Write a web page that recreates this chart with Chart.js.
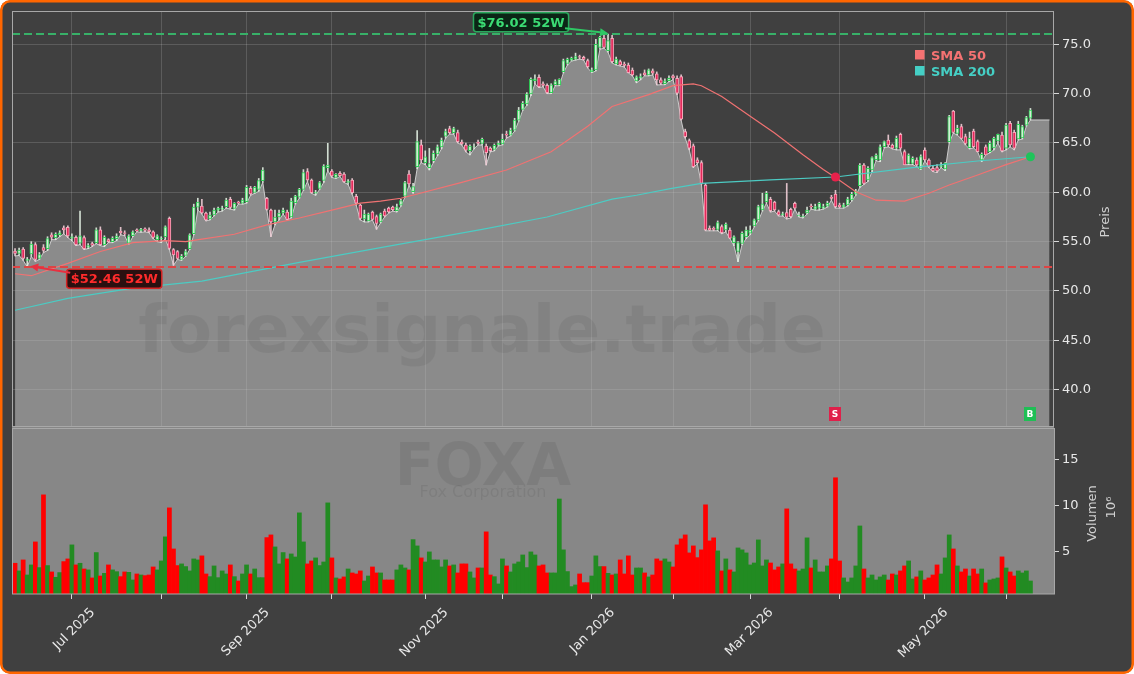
<!DOCTYPE html>
<html>
<head>
<meta charset="utf-8">
<script src="https://cdn.jsdelivr.net/npm/chart.js@4.4.1/dist/chart.umd.min.js"></script>
<style>
  html, body { margin: 0; padding: 0; background: #ffffff; }
</style>
</head>
<body>
<canvas id="chart" width="1134" height="674"></canvas>
<script>
// FOXA daily candles, Jun 10 2025 .. Jun 9 2026 (x = trading day index)
const open = [
  54.05, 53.8, 54.25, 53.1, 53.75, 54.7, 53.3, 54.4, 54.3, 55.7,
  55.4, 55.7, 56.4, 56.45, 55.35, 55.45, 54.85, 55.4, 54.45, 54.8,
  54.9, 56.2, 54.7, 55.2, 55.0, 55.3, 56.05, 55.9, 54.85, 55.6,
  56.2, 56.1, 56.3, 56.2, 56.0, 55.2, 55.3, 55.5, 57.36, 54.2,
  53.99, 53.2, 53.6, 54.3, 55.8, 58.5, 58.6, 57.9, 57.3, 57.7,
  58.2, 58.3, 58.54, 59.29, 58.37, 59.0, 58.9, 59.05, 60.4, 60.0,
  60.3, 61.18, 59.4, 58.2, 57.0, 57.5, 57.9, 58.0, 57.5, 58.95,
  59.5, 60.3, 62.09, 61.25, 59.9, 60.4, 61.2, 62.5, 62.16, 61.5,
  61.92, 61.85, 61.0, 61.25, 59.6, 58.71, 57.3, 57.1, 58.0, 57.53,
  57.0, 58.1, 58.4, 58.5, 58.14, 58.7, 59.62, 61.85, 60.06, 62.6,
  64.8, 63.0, 62.5, 63.2, 63.9, 64.6, 65.7, 66.45, 66.04, 66.04,
  65.1, 64.79, 64.22, 64.6, 65.09, 64.96, 64.69, 64.49, 64.35, 64.8,
  64.9, 65.9, 65.8, 66.3, 67.3, 68.41, 68.95, 69.96, 71.3, 71.65,
  71.0, 70.84, 70.1, 70.9, 70.87, 72.22, 73.07, 73.4, 73.5, 73.74,
  73.68, 73.34, 72.2, 72.4, 74.69, 75.6, 74.35, 75.6, 73.0, 73.24,
  73.0, 72.9, 72.39, 71.28, 71.6, 72.1, 71.9, 72.3, 72.0, 71.4,
  71.0, 71.3, 71.8, 71.56, 71.72, 66.15, 65.24, 64.7, 63.28, 63.01,
  60.74, 56.35, 56.35, 56.25, 56.52, 56.18, 56.18, 54.9, 54.0, 54.83,
  55.51, 55.85, 56.59, 57.2, 58.21, 59.06, 59.29, 59.0, 58.04, 57.7,
  57.94, 58.28, 58.89, 57.6, 57.5, 57.9, 58.6, 58.3, 58.38, 58.4,
  58.6, 59.5, 59.83, 58.7, 58.5, 58.71, 59.22, 59.8, 60.67, 62.77,
  61.25, 62.26, 63.3, 63.27, 64.62, 65.3, 64.79, 64.46, 65.87, 64.12,
  62.93, 62.93, 63.27, 62.36, 64.29, 63.27, 62.43, 62.5, 62.6, 62.36,
  65.13, 68.24, 65.97, 66.65, 65.64, 64.52, 66.21, 65.13, 63.27, 64.62,
  64.12, 64.5, 65.2, 65.8, 64.46, 66.99, 66.08, 65.4, 65.5, 66.8,
  67.5
];
const high = [
  54.3, 54.35, 54.4, 53.4, 55.0, 54.9, 53.9, 54.7, 55.5, 55.9,
  55.9, 56.1, 56.6, 56.6, 55.8, 55.6, 58.1, 55.6, 54.8, 54.95,
  56.4, 56.5, 55.6, 55.3, 55.5, 55.8, 56.45, 56.1, 55.7, 56.1,
  56.3, 56.35, 56.4, 56.4, 56.1, 55.7, 55.5, 56.6, 57.5, 54.3,
  54.1, 53.7, 54.2, 55.8, 58.8, 59.4, 59.3, 58.0, 58.0, 58.4,
  58.5, 58.6, 59.4, 59.5, 58.95, 59.1, 59.4, 60.7, 60.6, 60.6,
  61.4, 62.5, 59.5, 58.3, 58.2, 58.2, 58.4, 58.2, 59.4, 59.7,
  60.4, 62.3, 62.4, 61.35, 60.2, 61.1, 62.8, 64.96, 62.3, 61.9,
  62.1, 62.0, 61.3, 61.4, 59.8, 58.8, 58.2, 57.9, 58.1, 57.7,
  57.9, 58.3, 58.5, 58.6, 58.8, 59.3, 61.1, 62.2, 60.9, 66.25,
  65.3, 64.2, 64.45, 64.2, 64.8, 65.5, 66.4, 66.7, 66.6, 66.3,
  65.3, 65.0, 64.8, 64.9, 65.3, 65.5, 64.9, 64.6, 64.9, 65.2,
  65.9, 66.2, 66.5, 67.5, 68.6, 69.2, 70.1, 71.6, 71.89, 71.9,
  71.2, 71.0, 71.0, 71.4, 71.5, 73.5, 73.6, 73.7, 74.1, 73.9,
  73.8, 73.5, 72.6, 75.5, 75.8, 75.9, 76.02, 75.9, 73.7, 73.4,
  73.2, 73.1, 72.6, 71.8, 72.0, 72.4, 72.5, 72.5, 72.2, 71.6,
  71.5, 71.8, 71.9, 71.8, 71.9, 66.4, 65.4, 64.9, 63.5, 63.2,
  60.9, 56.6, 56.5, 57.1, 56.7, 56.9, 56.4, 55.6, 55.0, 56.0,
  56.5, 56.6, 57.3, 58.7, 59.9, 60.1, 59.5, 59.1, 58.2, 58.0,
  60.9, 58.4, 59.0, 58.0, 57.8, 58.5, 58.8, 58.8, 59.0, 58.8,
  59.1, 59.7, 60.2, 58.9, 58.9, 59.5, 60.0, 60.3, 62.9, 62.9,
  62.6, 63.6, 63.9, 64.8, 65.2, 65.81, 64.9, 65.7, 66.0, 64.3,
  63.9, 63.6, 63.5, 63.8, 64.5, 63.4, 62.7, 62.8, 63.0, 63.0,
  67.8, 68.3, 66.8, 66.9, 65.9, 66.1, 66.4, 65.3, 64.0, 64.8,
  65.2, 65.6, 65.9, 66.1, 67.0, 67.2, 66.3, 67.2, 66.8, 67.7,
  68.5
];
const low = [
  53.55, 53.6, 53.1, 52.46, 53.5, 53.0, 53.2, 53.9, 54.1, 55.2,
  55.2, 55.5, 55.8, 55.4, 55.1, 54.6, 54.7, 54.2, 54.3, 54.5,
  54.8, 54.6, 54.5, 54.9, 54.9, 55.1, 55.7, 55.6, 54.75, 55.5,
  56.0, 55.95, 56.0, 55.9, 55.3, 55.0, 54.9, 55.3, 54.2, 52.6,
  53.2, 53.1, 53.5, 54.2, 55.7, 58.2, 57.8, 57.1, 57.2, 57.6,
  58.0, 58.1, 58.4, 58.3, 58.2, 58.8, 58.8, 58.9, 59.7, 59.9,
  60.1, 61.0, 58.2, 55.5, 56.7, 57.2, 57.8, 57.2, 57.4, 58.8,
  59.4, 60.2, 61.1, 59.9, 59.7, 60.3, 61.0, 62.2, 61.5, 61.4,
  61.6, 61.0, 60.8, 59.8, 58.7, 57.2, 57.0, 57.0, 57.2, 56.25,
  56.9, 57.5, 57.9, 58.1, 58.0, 58.6, 59.5, 60.7, 59.9, 62.4,
  63.0, 62.8, 62.26, 63.0, 63.7, 64.4, 65.5, 65.9, 65.9, 65.0,
  64.8, 64.1, 63.78, 64.4, 64.8, 64.8, 62.76, 64.1, 64.2, 64.7,
  64.8, 65.5, 65.7, 66.2, 67.2, 68.3, 68.8, 69.8, 71.0, 70.6,
  70.7, 70.0, 70.0, 70.8, 70.8, 72.1, 72.9, 73.3, 73.4, 73.5,
  73.4, 72.6, 72.12, 72.3, 74.5, 74.6, 74.2, 73.1, 72.9, 72.8,
  72.7, 72.1, 71.8, 71.1, 71.4, 71.8, 71.8, 71.9, 70.88, 70.9,
  70.9, 71.2, 71.4, 69.9, 67.3, 65.5, 64.3, 62.5, 62.9, 60.8,
  56.1, 56.1, 56.1, 56.1, 55.8, 56.0, 55.3, 54.6, 52.97, 54.7,
  55.3, 55.7, 56.5, 57.1, 58.1, 58.9, 58.0, 58.1, 57.6, 57.6,
  57.3, 57.4, 58.3, 57.5, 57.4, 57.8, 58.3, 58.2, 58.2, 58.3,
  58.5, 59.2, 58.4, 58.4, 58.4, 58.6, 59.1, 59.7, 60.5, 60.8,
  61.1, 62.1, 63.2, 63.1, 64.5, 64.6, 64.4, 64.3, 64.3, 62.8,
  62.8, 62.8, 62.6, 62.3, 63.2, 62.5, 62.1, 62.0, 62.5, 62.2,
  65.0, 66.0, 65.8, 65.4, 64.8, 64.4, 64.5, 64.1, 63.1, 63.8,
  64.0, 64.3, 65.0, 64.1, 64.3, 64.6, 64.3, 65.3, 65.4, 66.7,
  67.33
];
const close = [
  53.8, 54.15, 53.3, 53.2, 54.75, 53.2, 53.7, 54.1, 55.3, 55.45,
  55.75, 55.9, 56.2, 55.57, 55.5, 54.7, 55.6, 54.3, 54.6, 54.65,
  56.2, 54.7, 55.44, 55.0, 55.34, 55.57, 55.9, 55.84, 55.6, 56.0,
  56.1, 56.25, 56.15, 56.0, 55.44, 55.6, 55.34, 56.5, 54.32, 53.65,
  53.31, 53.5, 54.0, 55.7, 58.5, 59.0, 57.9, 57.2, 57.7, 58.2,
  58.38, 58.4, 59.22, 58.48, 58.88, 58.9, 59.22, 60.5, 59.83, 60.5,
  61.18, 62.26, 58.27, 57.0, 57.5, 57.9, 58.2, 57.26, 59.1, 59.62,
  60.3, 62.0, 61.25, 59.96, 60.0, 60.98, 62.66, 62.77, 61.65, 61.82,
  61.68, 61.08, 61.1, 59.96, 58.9, 57.36, 57.8, 57.8, 57.26, 56.85,
  57.8, 57.6, 58.0, 58.25, 58.54, 59.15, 60.98, 60.84, 60.57, 65.13,
  63.27, 63.6, 62.9, 63.95, 64.62, 65.3, 66.14, 66.04, 66.45, 65.13,
  64.89, 64.28, 64.69, 64.62, 64.96, 65.37, 64.01, 64.22, 64.76, 64.96,
  65.37, 65.8, 66.31, 67.33, 68.34, 69.01, 69.96, 71.45, 71.5, 70.7,
  70.84, 70.1, 70.9, 71.21, 71.45, 73.34, 73.47, 73.57, 73.74, 73.68,
  73.47, 72.73, 72.4, 75.0, 75.7, 74.69, 75.37, 73.24, 73.5, 72.9,
  72.85, 72.12, 71.89, 71.7, 71.72, 71.9, 72.4, 72.06, 71.39, 71.05,
  71.3, 71.56, 71.6, 70.04, 67.4, 65.64, 64.46, 62.6, 63.0, 60.91,
  56.18, 56.2, 56.25, 56.93, 55.91, 56.79, 55.34, 55.5, 54.9, 55.85,
  56.18, 56.18, 57.2, 58.55, 58.82, 59.9, 58.14, 58.21, 57.7, 57.81,
  57.47, 57.54, 58.38, 57.7, 57.6, 58.21, 58.55, 58.55, 58.89, 58.55,
  58.89, 59.39, 58.55, 58.55, 58.72, 59.32, 59.79, 60.13, 62.77, 60.91,
  62.43, 63.51, 63.78, 64.62, 65.13, 64.79, 64.46, 65.47, 64.46, 62.77,
  63.78, 63.44, 62.77, 63.61, 63.27, 62.6, 62.16, 62.16, 62.7, 62.93,
  67.66, 66.08, 66.48, 65.47, 64.96, 65.47, 64.62, 64.12, 63.85, 63.78,
  64.96, 65.47, 65.87, 64.2, 66.82, 64.79, 64.46, 66.89, 66.65, 67.56,
  68.34
];
// volume in millions
const volume = [
  3.74, 2.91, 4.10, 2.47, 3.56, 6.05, 3.27, 11.15, 3.49, 2.80,
  2.22, 2.73, 3.92, 4.21, 5.73, 3.56, 3.74, 3.12, 3.02, 2.15,
  4.90, 2.36, 2.65, 3.56, 3.02, 2.83, 2.29, 2.80, 2.76, 1.93,
  2.58, 2.47, 2.40, 2.47, 3.34, 3.02, 3.99, 6.60, 9.74, 5.29,
  3.49, 3.67, 3.38, 2.91, 4.21, 4.10, 4.54, 2.58, 2.29, 3.45,
  2.18, 2.91, 2.58, 3.56, 2.29, 1.82, 2.58, 3.56, 2.58, 3.12,
  2.18, 2.18, 6.52, 6.81, 5.51, 3.67, 4.90, 4.21, 4.75, 4.42,
  9.20, 6.05, 3.67, 3.99, 4.32, 3.49, 3.88, 10.28, 4.32, 2.15,
  2.04, 2.26, 3.12, 2.69, 2.58, 2.91, 1.82, 2.36, 3.34, 2.69,
  2.69, 1.93, 1.93, 1.93, 3.02, 3.56, 3.23, 3.02, 6.30, 5.62,
  4.32, 3.88, 4.97, 4.10, 4.10, 3.34, 4.10, 3.45, 3.56, 2.69,
  3.67, 3.67, 2.80, 2.15, 3.23, 3.23, 7.14, 2.47, 2.29, 1.50,
  4.21, 3.45, 2.80, 3.67, 3.88, 4.64, 3.27, 4.97, 4.64, 3.45,
  3.56, 2.69, 2.69, 2.69, 10.7, 5.19, 2.84, 1.21, 1.39, 2.58,
  1.64, 1.64, 2.36, 4.54, 3.38, 3.38, 2.65, 2.47, 2.58, 4.10,
  2.58, 4.54, 2.47, 3.23, 3.23, 2.69, 2.26, 2.47, 4.21, 3.99,
  4.21, 3.88, 3.34, 5.73, 6.38, 6.81, 4.86, 5.62, 4.35, 5.19,
  10.07, 6.16, 6.49, 5.08, 2.91, 4.21, 3.02, 2.80, 5.40, 5.19,
  4.86, 3.56, 3.77, 6.27, 3.45, 4.10, 3.77, 3.02, 3.34, 3.67,
  9.63, 3.67, 3.12, 2.91, 3.12, 6.49, 3.23, 4.10, 2.80, 2.80,
  3.45, 4.21, 13.0, 3.99, 2.15, 1.71, 2.15, 3.45, 7.78, 3.12,
  2.15, 2.47, 1.93, 2.26, 2.47, 1.93, 2.58, 2.47, 2.91, 3.45,
  3.99, 2.04, 2.26, 2.91, 1.93, 2.15, 2.47, 3.56, 2.58, 4.32,
  6.81, 5.29, 3.45, 2.80, 3.12, 2.36, 3.12, 2.58, 3.12, 1.61,
  1.93, 2.04, 2.15, 4.43, 3.23, 2.80, 2.36, 2.91, 2.69, 2.91,
  1.82
];

// first trading day of each month and its label
const monthIdx = [14, 36, 57, 78, 101, 120, 142, 162, 181, 203, 224, 244];
const monthLabels = ['Jul 2025', '', 'Sep 2025', '', 'Nov 2025', '', 'Jan 2026', '', 'Mar 2026', '', 'May 2026', ''];

// moving averages
const sma50Idx = [0, 4, 13, 21, 29, 37, 42, 46, 54, 62, 70, 78, 85, 90, 95, 110, 121, 132, 141, 147,
  156, 162, 167, 169, 174, 181, 187, 194, 199, 202, 207, 212, 219, 225, 230, 237, 244, 250];
const sma50 = [51.75, 51.55, 52.8, 54.0, 54.9, 55.1, 55.0, 55.25, 55.75, 56.7, 57.4, 58.2, 58.9, 59.1, 59.4, 61.0, 62.26, 64.1, 66.7, 68.7,
  69.9, 70.8, 70.98, 70.8, 69.7, 67.7, 66.0, 63.8, 62.3, 61.5, 60.06, 59.2, 59.1, 59.9, 60.74, 61.75, 62.8, 63.6];
const sma200Idx = [0, 13, 29, 46, 70, 90, 115, 131, 147, 153, 161, 169, 186, 202, 221, 237, 250];
const sma200 = [48.05, 49.26, 50.3, 51.0, 52.9, 54.4, 56.25, 57.5, 59.3, 59.7, 60.35, 60.9, 61.25, 61.55, 62.5, 63.17, 63.6];

// crossover signals
const crossIdx = [202, 250];
const crossVal = [61.55, 63.6];
const crossSignal = ['S', 'B'];

// 52 week extremes
const high52 = 76.02, high52Idx = 146;
const low52 = 52.46, low52Idx = 3;

// the shaded price area runs on past the last bar
const areaTailIdx = [254.7];
const areaTail = [67.33];

const UP = '#2fcf55', DOWN = '#e3285a';
const isUp = close.map((c, i) => c >= open[i]);

function roundRect(ctx, x, y, w, h, r) {
  ctx.beginPath();
  ctx.moveTo(x + r, y);
  ctx.arcTo(x + w, y, x + w, y + h, r);
  ctx.arcTo(x + w, y + h, x, y + h, r);
  ctx.arcTo(x, y + h, x, y, r);
  ctx.arcTo(x, y, x + w, y, r);
  ctx.closePath();
}

function arrow(ctx, x1, y1, x2, y2, color) {
  const a = Math.atan2(y2 - y1, x2 - x1);
  const hx = x2 - 8 * Math.cos(a), hy = y2 - 8 * Math.sin(a);
  ctx.strokeStyle = color;
  ctx.fillStyle = color;
  ctx.lineWidth = 2;
  ctx.beginPath();
  ctx.moveTo(x1, y1);
  ctx.lineTo(hx, hy);
  ctx.stroke();
  ctx.beginPath();
  ctx.moveTo(x2, y2);
  ctx.lineTo(hx + 4 * Math.sin(a), hy - 4 * Math.cos(a));
  ctx.lineTo(hx - 4 * Math.sin(a), hy + 4 * Math.cos(a));
  ctx.closePath();
  ctx.fill();
}

function tag(ctx, text, cx, cy, fg, bg, border) {
  ctx.font = 'bold 13px "DejaVu Sans"';
  const w = ctx.measureText(text).width + 8, h = 19;
  roundRect(ctx, cx - w / 2, cy - h / 2, w, h, 3);
  ctx.fillStyle = bg;
  ctx.fill();
  ctx.lineWidth = 1.5;
  ctx.strokeStyle = border;
  ctx.stroke();
  ctx.fillStyle = fg;
  ctx.textAlign = 'center';
  ctx.textBaseline = 'middle';
  ctx.fillText(text, cx, cy + 1);
}

function vText(ctx, text, x, y) {
  ctx.save();
  ctx.translate(x, y);
  ctx.rotate(-Math.PI / 2);
  ctx.fillText(text, 0, 0);
  ctx.restore();
}

const decor = {
  id: 'decor',
  beforeDraw(chart) {
    const { ctx, width, height } = chart;
    ctx.save();
    roundRect(ctx, 0.5, 0.5, width - 1, height - 1, 9);
    ctx.fillStyle = '#404040';
    ctx.fill();
    ctx.restore();
  },
  beforeDatasetsDraw(chart) {
    const { ctx, chartArea: a, scales: { yv } } = chart;
    ctx.save();
    // volume panel background hides the vertical grid there
    ctx.fillStyle = '#878787';
    ctx.fillRect(a.left, yv.top, a.right - a.left, yv.bottom - yv.top);
    ctx.textAlign = 'center';
    ctx.textBaseline = 'alphabetic';
    ctx.fillStyle = 'rgba(0,0,0,0.07)';
    ctx.font = 'bold 58px "DejaVu Sans"';
    ctx.fillText('FOXA', a.left + 471, yv.top + 58);
    ctx.font = '16px "DejaVu Sans"';
    ctx.fillText('Fox Corporation', a.left + 471, yv.top + 70);
    ctx.restore();
  },
  afterDatasetsDraw(chart) {
    const { ctx, chartArea: a, scales: { y, yv } } = chart;
    ctx.save();
    // watermark over the shaded area
    ctx.textAlign = 'center';
    ctx.textBaseline = 'alphabetic';
    ctx.fillStyle = 'rgba(0,0,0,0.06)';
    ctx.font = 'bold 66px "DejaVu Sans"';
    ctx.fillText('forexsignale.trade', a.left + 470, y.top + 341);

    ctx.lineWidth = 2;
    ctx.setLineDash([8, 4]);
    [[high52, '#38b068'], [low52, '#de4444']].forEach(([v, c]) => {
      const py = Math.round(y.getPixelForValue(v));
      ctx.strokeStyle = c;
      ctx.beginPath();
      ctx.moveTo(a.left, py);
      ctx.lineTo(a.right, py);
      ctx.stroke();
    });
    ctx.setLineDash([]);
    ctx.strokeStyle = '#a8a8a8';
    ctx.lineWidth = 1;
    ctx.strokeRect(a.left + 0.5, y.top + 0.5, a.right - a.left - 1, y.bottom - y.top - 1);
    ctx.strokeRect(a.left + 0.5, yv.top + 1.5, a.right - a.left, yv.bottom - yv.top - 1.5);
    ctx.restore();
  },
  afterDraw(chart) {
    const { ctx, chartArea: a, scales: { x, y, yv }, width, height } = chart;
    ctx.save();

    // 52W tags
    const hx = x.getPixelForValue(high52Idx), hy = y.getPixelForValue(high52);
    tag(ctx, '$' + high52.toFixed(2) + ' 52W', hx - 87, hy - 12, '#3bdc74', '#0b2616', '#2aa85c');
    arrow(ctx, hx - 43, hy - 6, hx, hy - 1, '#2ec864');
    const lx = x.getPixelForValue(low52Idx), ly = y.getPixelForValue(low52);
    tag(ctx, '$' + low52.toFixed(2) + ' 52W', lx + 87, ly + 12, '#ff2b2b', '#2a1010', '#d42424');
    arrow(ctx, lx + 43, ly + 6, lx + 3, ly - 0.5, '#e83040');

    // crossover signal boxes
    crossIdx.forEach((ix, k) => {
      const px = Math.round(x.getPixelForValue(ix)), py = y.bottom - 13;
      ctx.fillStyle = crossSignal[k] === 'S' ? '#e0204a' : '#1fbf55';
      ctx.fillRect(px - 6, py - 7, 12, 14);
      ctx.fillStyle = '#ffffff';
      ctx.font = 'bold 9px "DejaVu Sans"';
      ctx.textAlign = 'center';
      ctx.textBaseline = 'middle';
      ctx.fillText(crossSignal[k], px, py + 0.5);
    });

    // legend
    const lgx = a.right - 139;
    [['SMA 50', '#f47272', 50], ['SMA 200', '#45cfc5', 66]].forEach(([t, c, ty]) => {
      ctx.fillStyle = c;
      ctx.fillRect(lgx, ty, 9.5, 9.5);
      ctx.font = 'bold 13px "DejaVu Sans"';
      ctx.textAlign = 'left';
      ctx.textBaseline = 'alphabetic';
      ctx.fillText(t, lgx + 16, ty + 9.5);
    });

    // axis titles (read bottom to top)
    ctx.fillStyle = '#d0d0d0';
    ctx.font = '13px "DejaVu Sans"';
    ctx.textAlign = 'center';
    ctx.textBaseline = 'middle';
    vText(ctx, 'Preis', y.left + 52, (y.top + y.bottom) / 2 + 3);
    vText(ctx, 'Volumen', yv.left + 39, (yv.top + yv.bottom) / 2 + 3);
    vText(ctx, '10⁶', yv.left + 58, (yv.top + yv.bottom) / 2 - 3);

    // orange frame
    ctx.strokeStyle = '#ff6600';
    ctx.lineWidth = 2.5;
    roundRect(ctx, 1.25, 1.25, width - 2.5, height - 2.5, 9);
    ctx.stroke();
    ctx.restore();
  }
};

Chart.defaults.font.family = '"DejaVu Sans"';
Chart.defaults.font.size = 13;

const ctx = document.getElementById('chart').getContext('2d');
new Chart(ctx, {
  type: 'bar',
  data: {
    datasets: [
      {
        type: 'line',
        label: 'cross',
        data: crossIdx.map((ix, k) => ({ x: ix, y: crossVal[k] })),
        yAxisID: 'y',
        showLine: false,
        pointRadius: 4.5,
        pointBorderWidth: 0,
        pointBackgroundColor: crossSignal.map(s => (s === 'S' ? '#e8214b' : '#1fc45a')),
        order: 0
      },
      {
        type: 'line',
        label: 'SMA 50',
        data: sma50Idx.map((ix, k) => ({ x: ix, y: sma50[k] })),
        yAxisID: 'y',
        borderColor: '#f07272',
        borderWidth: 1.2,
        pointRadius: 0,
        order: 1
      },
      {
        type: 'line',
        label: 'SMA 200',
        data: sma200Idx.map((ix, k) => ({ x: ix, y: sma200[k] })),
        yAxisID: 'y',
        borderColor: '#4ccbc3',
        borderWidth: 1.2,
        pointRadius: 0,
        order: 1
      },
      {
        label: 'body',
        data: close.map((c, i) => ({ x: i, y: [open[i], c] })),
        yAxisID: 'y',
        backgroundColor: isUp.map(u => (u ? '#d4ecd6' : DOWN)),
        borderColor: isUp.map(u => (u ? UP : '#f6a9bb')),
        borderWidth: 1,
        borderSkipped: false,
        barThickness: 3,
        grouped: false,
        order: 3
      },
      {
        label: 'wick',
        data: close.map((c, i) => ({ x: i, y: [low[i], high[i]] })),
        yAxisID: 'y',
        backgroundColor: isUp.map(u => (u ? 'rgba(225,238,225,0.9)' : 'rgba(240,205,214,0.9)')),
        barThickness: 1,
        grouped: false,
        order: 4
      },
      {
        label: 'vol',
        data: volume.map((v, i) => ({ x: i, y: v })),
        yAxisID: 'yv',
        backgroundColor: isUp.map(u => (u ? '#228b22' : '#ff0000')),
        barPercentage: 1,
        categoryPercentage: 1,
        grouped: false,
        order: 9
      },
      {
        type: 'line',
        label: 'area',
        data: low.map((v, i) => ({ x: i, y: v }))
          .concat(areaTailIdx.map((ix, k) => ({ x: ix, y: areaTail[k] }))),
        yAxisID: 'y',
        fill: 'start',
        backgroundColor: 'rgba(200,200,200,0.55)',
        borderColor: 'rgba(222,222,222,0.85)',
        borderWidth: 1,
        pointRadius: 0,
        order: 10
      }
    ]
  },
  options: {
    responsive: false,
    animation: false,
    events: [],
    layout: { padding: { left: 12, top: 11, right: 0, bottom: 0 } },
    plugins: { legend: { display: false }, tooltip: { enabled: false } },
    scales: {
      x: {
        type: 'linear',
        offset: false,
        min: -0.75,
        max: 255.8,
        afterBuildTicks: s => { s.ticks = monthIdx.map(v => ({ value: v })); },
        afterFit: s => { s.height = 80; },
        grid: { offset: false, color: 'rgba(255,255,255,0.15)', tickColor: '#d8d8d8', tickLength: 5 },
        border: { display: false },
        ticks: {
          autoSkip: false,
          minRotation: 45,
          maxRotation: 45,
          labelOffset: 21,
          padding: 6,
          color: '#e8e8e8',
          callback: v => {
            const k = monthIdx.indexOf(v);
            return k >= 0 ? monthLabels[k] : '';
          }
        }
      },
      y: {
        position: 'right',
        stack: 'panels',
        stackWeight: 416,
        min: 36.22,
        max: 78.37,
        afterFit: s => { s.width = 80; },
        grid: { color: 'rgba(255,255,255,0.15)', tickColor: '#d8d8d8', tickLength: 5 },
        border: { display: false },
        ticks: { stepSize: 5, includeBounds: false, color: '#e8e8e8', callback: v => v.toFixed(1) }
      },
      yv: {
        position: 'right',
        stack: 'panels',
        stackWeight: 167,
        min: 0.41,
        max: 18.5,
        afterFit: s => { s.width = 80; },
        grid: { drawOnChartArea: false, tickColor: '#d8d8d8', tickLength: 5 },
        border: { display: false },
        ticks: { stepSize: 5, includeBounds: false, color: '#e8e8e8' }
      }
    }
  },
  plugins: [decor]
});
</script>
</body>
</html>
